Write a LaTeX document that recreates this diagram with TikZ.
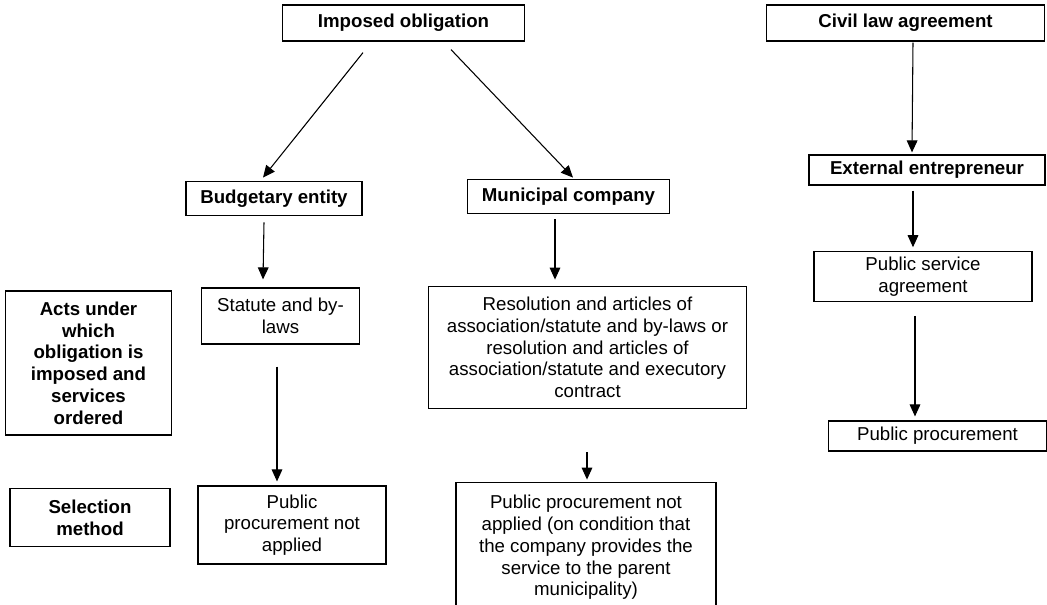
\documentclass[tikz,border=0pt]{standalone}
\usepackage{fontspec}
\setmainfont{Liberation Sans}
\usepackage{tikz}
\usetikzlibrary{arrows.meta, calc}
\tikzstyle{heading} = [rectangle, draw=black, line width=0.9pt, text centered, align=center, font=\fontsize{14}{16.3}\selectfont\bfseries]
\tikzstyle{act} = [rectangle, draw=black, line width=0.9pt, text centered, align=center, font=\fontsize{14}{16.3}\selectfont]
\tikzstyle{arrow} = [line width=0.8pt, -{Triangle[length=9pt, width=8pt]}]

\begin{document}
\begin{tikzpicture}[x=0.75pt, y=-0.75pt]
    \useasboundingbox (0,0) rectangle (1047,604);
    \clip (0,0) rectangle (1047,604);

    % top row
    \node (oblig) [heading, minimum width=182pt, minimum height=27pt] at (403.5,23) {Imposed obligation};
    \node (civil) [heading, minimum width=209pt, minimum height=27pt] at (905.5,23) {Civil law agreement};
    \node (budget) [heading, minimum width=132pt, minimum height=26pt] at (274,198.5) {Budgetary entity};
    \node (munic) [heading, minimum width=152pt, minimum height=26pt] at (568.5,196.5) {Municipal company};
    \node (extern) [heading, minimum width=177pt, minimum height=22.5pt] at (927,170) {External entrepreneur};

    % row captions
    \node (acts) [heading, minimum width=124pt, minimum height=108pt] at (88.5,363) {Acts under\\which\\obligation is\\imposed and\\services\\ordered};
    \node (select) [heading, minimum width=120pt, minimum height=43pt] at (90,517.5) {Selection\\method};

    % acts
    \node (statute) [act, minimum width=119pt, minimum height=42pt] at (280.5,316) {Statute and by-\\laws};
    \node (resol) [act, minimum width=239pt, minimum height=92pt] at (587.5,347.5) {Resolution and articles of\\association/statute and by-laws or\\resolution and articles of\\association/statute and executory\\contract};
    \node (psa) [act, minimum width=163.5pt, minimum height=37pt] at (923,276.5) {Public service\\agreement};

    % selection (last box runs off the page)
    \node (ppna) [act, minimum width=141pt, minimum height=58.5pt] at (292,525) {Public\\procurement not\\applied};
    \node (ppcond) [act, minimum width=195pt, minimum height=98pt] at (586,547.5) {Public procurement not\\applied (on condition that\\the company provides the\\service to the parent\\municipality)};
    \node (pp) [act, minimum width=163pt, minimum height=22.5pt] at (937.5,436) {Public procurement};

    \draw [arrow] ($(oblig.south)+(-40.5,11)$) -- ($(budget.north)+(-11,-3)$);
    \draw [arrow] ($(oblig.south)+(47.5,8)$) -- ($(munic.north)+(4.5,-1)$);
    \draw [arrow] ($(budget.south)+(-10,6)$) -- ($(statute.north)+(-17.5,-8)$);
    \draw [arrow] ($(munic.south)+(-13.5,5)$) -- ($(resol.north)+(-32.5,-6)$);
    \draw [arrow] ($(statute.south)+(-3.5,22)$) -- ($(ppna.north)+(-15,-4)$);
    \draw [arrow] ($(resol.south)+(-0.5,43)$) -- ($(ppcond.north)+(1,-2)$);
    \draw [arrow] ($(civil.south)+(7.5,1)$) -- ($(extern.north)+(-15,-2)$);
    \draw [arrow] ($(extern.south)+(-14,5)$) -- ($(psa.north)+(-10,-4)$);
    \draw [arrow] ($(psa.south)+(-8,14)$) -- ($(pp.north)+(-22.5,-4)$);
\end{tikzpicture}
\end{document}
